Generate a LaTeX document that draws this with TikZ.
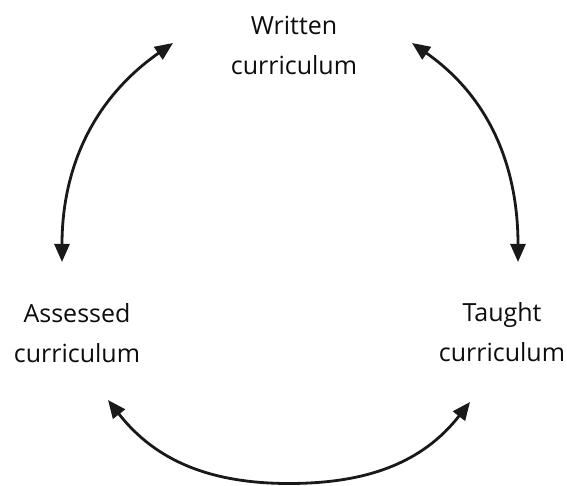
\documentclass[tikz,border=0pt]{standalone}
\usepackage{fontspec}
\setmainfont{Open Sans}
\usetikzlibrary{arrows.meta}
\begin{document}
\begin{tikzpicture}[x=1pt,y=1pt,
  label/.style={align=center,inner sep=0pt,font=\fontsize{25}{40}\selectfont,text=black!95},
  cyc/.style={line width=2.8pt,black!90,{Triangle[length=18pt,width=15pt]}-{Triangle[length=18pt,width=15pt]}}]
\useasboundingbox[fill=white] (0,0) rectangle (567,486);
\node[label] (w) at (294,441) {Written\\curriculum};
\node[label] (a) at (77,152.5) {Assessed\\curriculum};
\node[label] (t) at (502,153.5) {Taught\\curriculum};
\coordinate (a1) at (62,224);
\coordinate (a2) at (173,443);
\coordinate (b1) at (412,443);
\coordinate (b2) at (518,224);
\coordinate (c1) at (108,86);
\coordinate (cm) at (289,2.5);
\coordinate (c2) at (470,84);
\draw[cyc] (a1) to[out=90,in=215] (a2);
\draw[cyc] (b1) to[out=-35,in=90] (b2);
\draw[cyc] (c1) to[out=-52,in=180] (cm) to[out=0,in=232] (c2);
\end{tikzpicture}
\end{document}
